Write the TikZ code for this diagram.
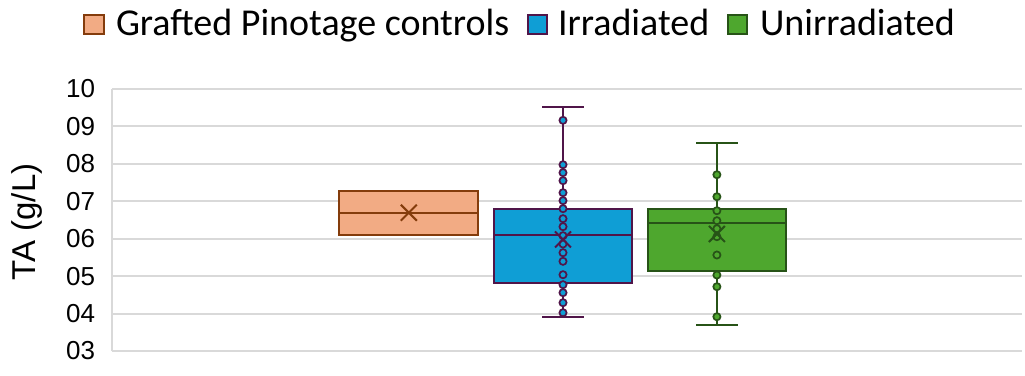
\documentclass[tikz,border=0pt]{standalone}
\usepackage{fontspec}
\setmainfont{Liberation Sans}
\newfontfamily\legendfont{Carlito}
\definecolor{gpfill}{HTML}{F2AB84}
\definecolor{gpedge}{HTML}{843C0C}
\definecolor{irfill}{HTML}{0F9ED5}
\definecolor{iredge}{HTML}{501549}
\definecolor{unfill}{HTML}{4EA72E}
\definecolor{unedge}{HTML}{275317}
\definecolor{gridgray}{HTML}{D9D9D9}
\begin{document}
\begin{tikzpicture}[x=1pt, y=1pt,
		every node/.style={inner sep=0pt, outer sep=0pt},
		grid line/.style={draw=gridgray, line width=2pt},
		tick/.style={anchor=east, font=\fontsize{26}{26}\selectfont},
		key/.style={anchor=base west, font=\legendfont\fontsize{38}{38}\selectfont},
		swatch/.style={draw=#1edge, fill=#1fill, line width=2pt},
		whisker/.style={draw=#1edge, line width=2pt},
		dot/.style={draw=#1edge, fill=#1fill, line width=1.7pt},
		mean/.style={draw=#1edge, line width=2pt}]
		
		\useasboundingbox (0,0) rectangle (1025,375);
		
		\draw[swatch=gp] (84,341) rectangle (104,360);
		\node[key] (gpkey) at (116,339) {Grafted Pinotage controls};
		\draw[swatch=ir] (528,341) rectangle (547,360);
		\node[key] (irkey) at (558,339) {Irradiated};
		\draw[swatch=un] (728,341) rectangle (747,360);
		\node[key] (unkey) at (760,339) {Unirradiated};
		
		\node[rotate=90, font=\fontsize{33}{33}\selectfont] (ylab) at (27,153) {TA (g/L)};
		
		\begin{scope}[shift={(0,-88.29)}, y=37.43pt]
			\foreach \v/\lab in {3/03,4/04,5/05,6/06,7/07,8/08,9/09,10/10}{
				\draw[grid line] (112,\v) -- (1022,\v);
				\node[tick] (t\v) at (95,\v) {\lab};
			}
			\draw[grid line] (112,3) -- (112,10);
			
			% grafted controls
			\draw[swatch=gp] (339.3,6.099) rectangle (478.3,7.275);
			\draw[whisker=gp] (339.3,6.695) -- (478.3,6.695);
			\draw[mean=gp] (408.8,6.695) +(-8pt,-8pt) -- +(8pt,8pt) +(-8pt,8pt) -- +(8pt,-8pt);
			
			% irradiated
			\draw[swatch=ir] (493.7,4.825) rectangle (632.3,6.802);
			\draw[whisker=ir] (493.7,6.107) -- (632.3,6.107);
			\draw[whisker=ir] (563,6.802) -- (563,9.527) (542.3,9.527) -- (583.7,9.527);
			\draw[whisker=ir] (563,4.825) -- (563,3.916) (542.3,3.916) -- (583.7,3.916);
			\foreach \p in {9.163,7.977,7.764,7.55,7.229,7.016,6.802,6.535,6.321,6.08,5.859,5.626,5.396,5.038,4.771,4.558,4.29,4.023}
				\draw[dot=ir] (563,\p) circle[radius=3.6pt];
			\draw[mean=ir] (563,5.98) +(-8pt,-8pt) -- +(8pt,8pt) +(-8pt,8pt) -- +(8pt,-8pt);
			
			% unirradiated
			\draw[swatch=un] (647.7,5.145) rectangle (786,6.794);
			\draw[whisker=un] (647.7,6.43) -- (786,6.43);
			\draw[whisker=un] (716.9,6.794) -- (716.9,8.565) (696.3,8.565) -- (737.7,8.565);
			\draw[whisker=un] (716.9,5.145) -- (716.9,3.703) (696.3,3.703) -- (737.7,3.703);
			\foreach \p in {7.71,7.122,6.748,6.481,6.267,6.054,5.565,5.03,4.718,3.916}
				\draw[dot=un] (716.9,\p) circle[radius=3.6pt];
			\draw[mean=un] (716.9,6.126) +(-8pt,-8pt) -- +(8pt,8pt) +(-8pt,8pt) -- +(8pt,-8pt);
		\end{scope}
\end{tikzpicture}
\end{document}
